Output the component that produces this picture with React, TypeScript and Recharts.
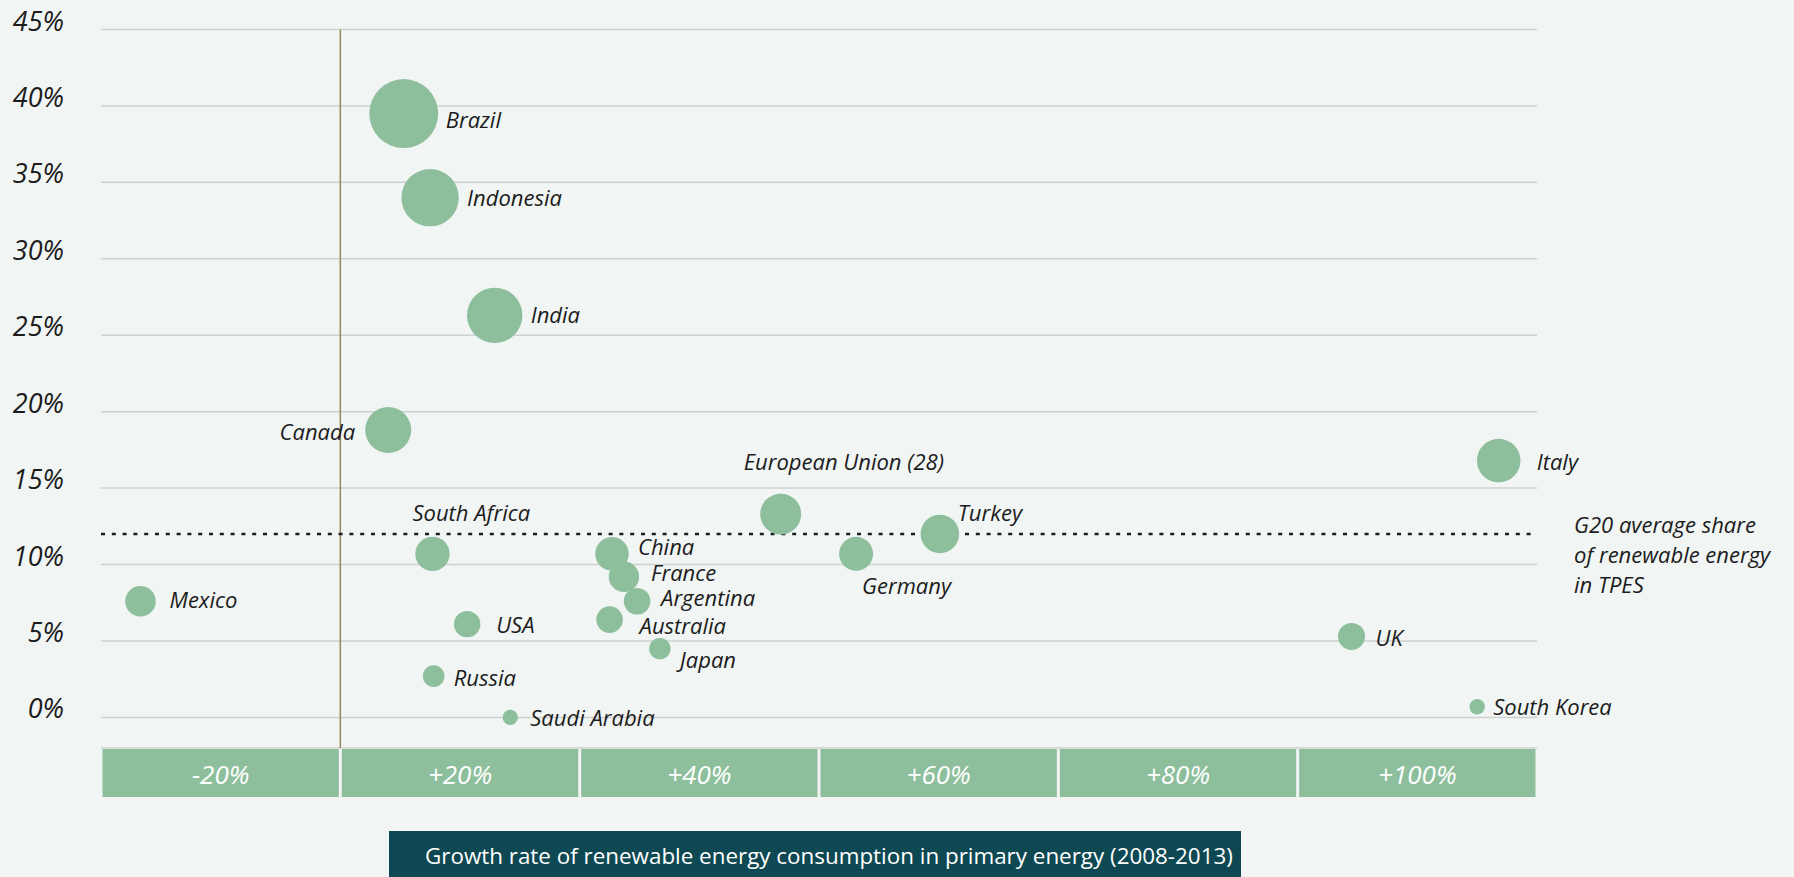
import React from 'react';
import { ScatterChart, Scatter, XAxis, YAxis, ZAxis, CartesianGrid, ReferenceLine } from 'recharts';

// G20 countries: growth of renewable energy consumption (2008-2013) vs. share of renewables in TPES
const countries = [
  'Brazil', 'Indonesia', 'India', 'Canada', 'Mexico', 'South Africa', 'USA', 'Russia',
  'Saudi Arabia', 'China', 'France', 'Argentina', 'Australia', 'Japan',
  'European Union (28)', 'Germany', 'Turkey', 'Italy', 'UK', 'South Korea',
];
const growth = [5.3, 7.5, 12.9, 4.0, -16.7, 7.7, 10.6, 7.8, 14.2, 22.7, 23.7, 24.8, 22.5, 26.7, 36.8, 43.1, 50.1, 96.8, 84.5, 95.0];
const share = [39.5, 34.0, 26.3, 18.8, 7.6, 10.7, 6.1, 2.7, 0, 10.7, 9.2, 7.6, 6.4, 4.5, 13.3, 10.7, 12.0, 16.8, 5.3, 0.7];
// relative bubble size (area)
const bubbleSize = [1190, 824, 767, 529, 234, 296, 174, 117, 59, 282, 231, 177, 177, 114, 420, 289, 372, 475, 182, 59];

const g20Average = 12.0;
const shareTicks = [0, 5, 10, 15, 20, 25, 30, 35, 40, 45];
const bandCenters = [-10, 10, 30, 50, 70, 90];
const bandLabels = ['-20%', '+20%', '+40%', '+60%', '+80%', '+100%'];
const g20Lines = ['G20 average share', 'of renewable energy', 'in TPES'];
const axisTitle = 'Growth rate of renewable energy consumption in primary energy (2008-2013)';

const data = countries.map((name, i) => ({ name, growth: growth[i], share: share[i], size: bubbleSize[i] }));

// where each country's label sits relative to its bubble
const labelPlacement: Record<string, { dx: number; dy: number; anchor?: 'start' | 'end' }> = {
  'Brazil': { dx: 42, dy: 5 },
  'Indonesia': { dx: 37, dy: -1 },
  'India': { dx: 36, dy: -1 },
  'Canada': { dx: -33, dy: 1, anchor: 'end' },
  'Mexico': { dx: 29, dy: -2 },
  'South Africa': { dx: -20, dy: -42 },
  'USA': { dx: 29, dy: 0 },
  'Russia': { dx: 20, dy: 1 },
  'Saudi Arabia': { dx: 20, dy: 0 },
  'China': { dx: 26, dy: -8 },
  'France': { dx: 27, dy: -5 },
  'Argentina': { dx: 24, dy: -4 },
  'Australia': { dx: 30, dy: 5 },
  'Japan': { dx: 20, dy: 10 },
  'European Union (28)': { dx: -37, dy: -53 },
  'Germany': { dx: 6, dy: 31 },
  'Turkey': { dx: 18, dy: -22 },
  'Italy': { dx: 38, dy: 0 },
  'UK': { dx: 24, dy: 1 },
  'South Korea': { dx: 16, dy: -1 },
};

const FONT = "'Open Sans', sans-serif";
const GREEN = '#8ebf9d';
const INK = '#1c1c1c';
const BG = '#f1f5f4';

const W = 1794;
const H = 877;
const MARGIN = { top: 29.5, right: 257, bottom: 79, left: 0 };
const Y_AXIS_W = 101;
const PLOT_W = W - MARGIN.left - MARGIN.right - Y_AXIS_W;
const BAND_HALF = PLOT_W / 12;

const ShareTick = ({ y, payload }: any) => (
  <text x={64} y={y + 1} textAnchor="end" fontFamily={FONT} fontStyle="italic" fontSize={27} fill={INK}>
    {payload.value}%
  </text>
);

const BandTick = ({ x, y, payload }: any) => {
  const label = bandLabels[bandCenters.indexOf(payload.value)];
  return (
    <g>
      <rect x={x - BAND_HALF + 1.5} y={y + 1} width={BAND_HALF * 2 - 3} height={48} fill={GREEN} />
      <text x={x} y={y + 26} textAnchor="middle" dominantBaseline="central" fontFamily={FONT} fontStyle="italic" fontSize={26} fill="#ffffff">
        {label}
      </text>
    </g>
  );
};

const Bubble = (props: any) => {
  const { cx, cy, size, width, payload } = props;
  const r = size != null ? Math.sqrt(size / Math.PI) : width / 2;
  const place = labelPlacement[payload.name] || { dx: r + 8, dy: 0 };
  return (
    <g>
      <circle cx={cx} cy={cy} r={r} fill={GREEN} />
      <text
        x={cx + place.dx}
        y={cy + place.dy}
        textAnchor={place.anchor || 'start'}
        dominantBaseline="central"
        fontFamily={FONT}
        fontStyle="italic"
        fontSize={22}
        fill={INK}
      >
        {payload.name}
      </text>
    </g>
  );
};

const G20Label = (props: any) => {
  const { viewBox } = props;
  const x = viewBox.x + viewBox.width + 37;
  return (
    <text fontFamily={FONT} fontStyle="italic" fontSize={22} fill={INK} dominantBaseline="central">
      {g20Lines.map((line, i) => (
        <tspan key={line} x={x} y={viewBox.y - 10 + i * 30}>{line}</tspan>
      ))}
    </text>
  );
};

export default function App() {
  return (
    <div style={{ position: 'absolute', left: 0, top: 0, width: W, height: H, background: BG, overflow: 'hidden' }}>
      <ScatterChart width={W} height={H} margin={MARGIN}>
        <CartesianGrid vertical={false} stroke="#cdd1d0" strokeWidth={1.5} />
        <XAxis
          type="number"
          dataKey="growth"
          domain={[-20, 100]}
          ticks={bandCenters}
          interval={0}
          height={50}
          axisLine={false}
          tickLine={false}
          tickSize={0}
          tickMargin={0}
          tick={<BandTick />}
        />
        <YAxis
          type="number"
          dataKey="share"
          domain={[-2, 45]}
          ticks={shareTicks}
          interval={0}
          width={Y_AXIS_W}
          axisLine={false}
          tickLine={false}
          tick={<ShareTick />}
        />
        <ZAxis type="number" dataKey="size" domain={[0, 1200]} range={[0, 1200 * Math.PI]} />
        <ReferenceLine x={0} stroke="#978660" strokeWidth={1.5} />
        <ReferenceLine y={g20Average} stroke={INK} strokeWidth={2.5} strokeDasharray="4 6.8" label={G20Label} />
        <Scatter data={data} shape={Bubble} isAnimationActive={false} />
      </ScatterChart>
      <div
        style={{
          position: 'absolute',
          left: 389,
          top: 831,
          width: 852,
          height: 50,
          background: '#0e4852',
          color: '#ffffff',
          fontFamily: FONT,
          fontSize: 22.4,
          lineHeight: '50px',
          paddingLeft: 36,
          boxSizing: 'border-box',
          whiteSpace: 'nowrap',
        }}
      >
        {axisTitle}
      </div>
    </div>
  );
}
